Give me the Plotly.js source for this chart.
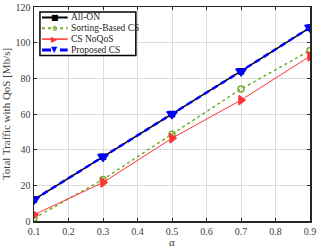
<!DOCTYPE html>
<html>
<head>
<meta charset="utf-8">
<script src="https://cdn.plot.ly/plotly-3.0.1.min.js"></script>
<style>html,body{margin:0;padding:0;background:#fff;}#chart{width:317px;height:249px;}</style>
</head>
<body>
<div id="chart"></div>
<script>
var alpha = [0.1, 0.3, 0.5, 0.7, 0.9];
var allOn = [12, 36, 60, 84, 108.5];
var sortingCS = [1.5, 23.3, 48.7, 74, 95.6];
var csNoQoS = [3.5, 21.6, 46.4, 67.8, 92.4];
var proposedCS = [12, 36, 60, 84, 108.5];
var seriesNames = ["All-ON", "Sorting-Based CS", "CS NoQoS", "Proposed CS"];
var xTicks = [0.1, 0.2, 0.3, 0.4, 0.5, 0.6, 0.7, 0.8, 0.9];
var yTicks = [0, 20, 40, 60, 80, 100, 120];

var font = "Liberation Serif, serif";
var styles = [
  {color: "#000000", width: 1.5, dash: "solid", symbol: "square", size: 5, glyph: "■"},
  {color: "#77AC30", width: 1.5, dash: "dot", symbol: "circle-open", size: 6, glyph: "o"},
  {color: "#FF3333", width: 1, dash: "solid", symbol: "triangle-right", size: 8, glyph: "▶"},
  {color: "#0000FF", width: 2.5, dash: "6px,4px", symbol: "triangle-down", size: 9, glyph: "▼"}
];
var series = [allOn, sortingCS, csNoQoS, proposedCS];
var traces = series.map(function(vals, i){
  var s = styles[i];
  return {x: alpha, y: vals, name: seriesNames[i], mode: "lines+markers",
    line: {color: s.color, width: s.width, dash: s.dash},
    marker: {symbol: s.symbol, size: s.size, color: s.color, line: {width: 1.5, color: s.color}}};
});

var shapes = [{type: "rect", xref: "paper", yref: "paper", x0: 0.0215, x1: 0.369, y0: 0.773, y1: 0.977,
  line: {color: "#000", width: 1.5}, fillcolor: "#fff", layer: "above"}];
var annotations = [];
var rowTop = 0.951, rowStep = 0.0505;
seriesNames.forEach(function(name, i){
  var s = styles[i];
  var yy = rowTop - i * rowStep;
  shapes.push({type: "line", xref: "paper", yref: "paper", x0: 0.029, x1: 0.122, y0: yy, y1: yy,
    line: {color: s.color, width: s.width + 0.5, dash: s.dash === "6px,4px" ? "dash" : s.dash}, layer: "above"});
  annotations.push({xref: "paper", yref: "paper", x: 0.0755, y: yy, text: s.glyph, showarrow: false,
    xanchor: "center", yanchor: "middle",
    font: {family: "DejaVu Sans", size: i === 1 ? 9 : 8, color: s.color}});
  annotations.push({xref: "paper", yref: "paper", x: 0.126, y: yy, text: name, showarrow: false,
    xanchor: "left", yanchor: "middle", font: {family: font, size: 9.5, color: "#262626"}});
});

var axisCommon = {
  showline: true, linecolor: "#262626", linewidth: 1.5, mirror: "ticks",
  ticks: "inside", ticklen: 3, tickcolor: "#262626", tickwidth: 1,
  showgrid: true, gridcolor: "#dcdcdc", gridwidth: 1, zeroline: false,
  ticklabeloverflow: "allow",
  tickfont: {family: font, size: 10, color: "#404040"}
};
var layout = {
  width: 317, height: 249,
  font: {family: font},
  margin: {l: 34, r: 7, t: 7, b: 28},
  paper_bgcolor: "#fff", plot_bgcolor: "#fff",
  showlegend: false,
  shapes: shapes, annotations: annotations,
  xaxis: Object.assign({}, axisCommon, {range: [0.1, 0.9], tickvals: xTicks,
           ticktext: xTicks.map(function(v){return v.toFixed(1);}),
           title: {text: "α", font: {family: font, size: 11, color: "#404040"}, standoff: 2}}),
  yaxis: Object.assign({}, axisCommon, {range: [0, 120], tickvals: yTicks,
           title: {text: "Total Traffic with QoS [Mb/s]", font: {family: font, size: 11, color: "#404040"}, standoff: 4}})
};
Plotly.newPlot("chart", traces, layout, {displayModeBar: false, staticPlot: true}).then(function(){
  // make sure every tick label (including the top "120") stays visible
  document.querySelectorAll('.ytick text, .xtick text').forEach(function(e){
    e.style.display = '';
    e.removeAttribute('display');
    e.style.visibility = 'visible';
    e.style.opacity = 1;
    var g = e.parentNode;
    if (g && g.style) { g.style.display = ''; g.removeAttribute('display'); }
  });
});
</script>
</body>
</html>
